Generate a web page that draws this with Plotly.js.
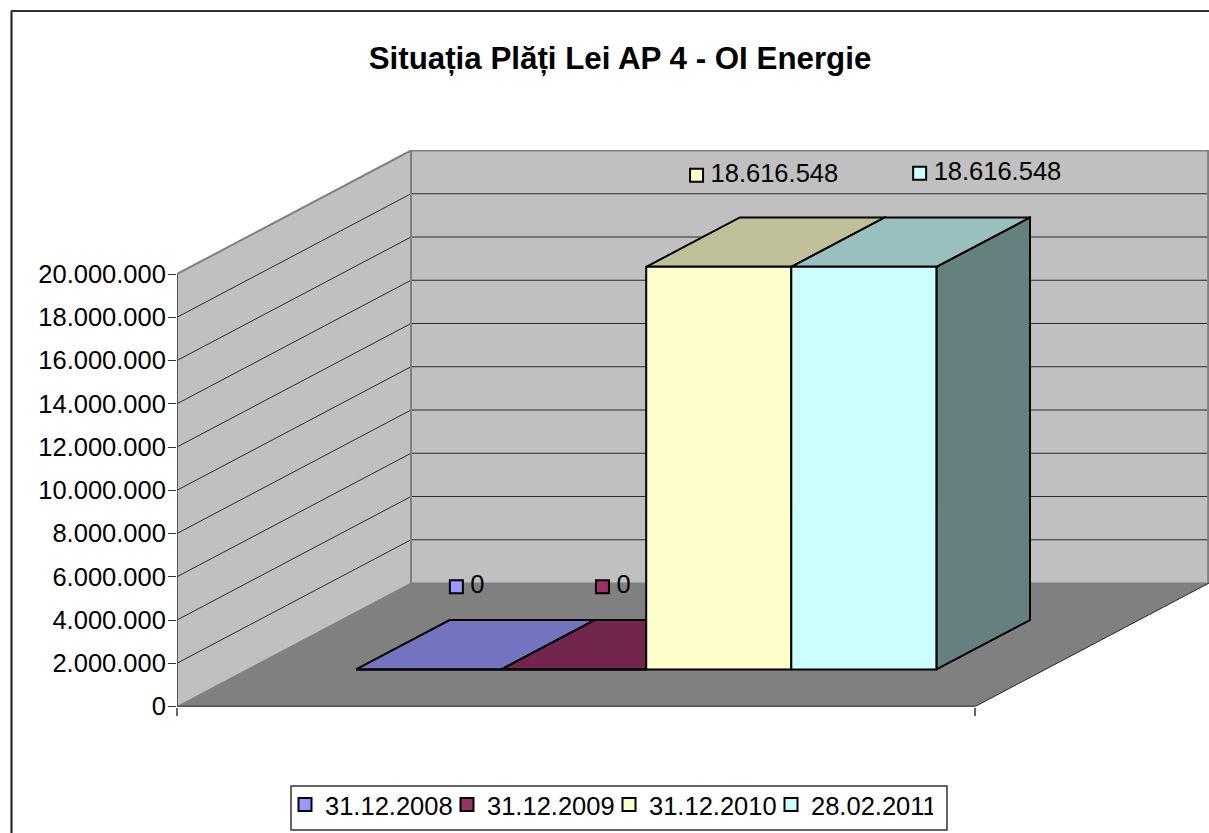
<!DOCTYPE html>
<html>
<head>
<meta charset="utf-8">
<script src="https://cdn.plot.ly/plotly-3.0.1.min.js"></script>
<style>html,body{margin:0;padding:0;background:#fff}#chart{width:1209px;height:833px}</style>
</head>
<body>
<div id="chart"></div>
<script>
// ---- data ----
const seriesNames = ['31.12.2008', '31.12.2009', '31.12.2010', '28.02.2011'];
const seriesValues = [0, 0, 18616548, 18616548];
const axisTicks = [0, 2000000, 4000000, 6000000, 8000000, 10000000, 12000000, 14000000, 16000000, 18000000, 20000000];
const frontColors = ['#9999FF', '#993366', '#FFFFCC', '#CCFFFF'];
const topColors = ['#7373BF', '#73264D', '#BFBF99', '#99BFBF'];
const sideColors = ['#4D4D80', '#4D1A33', '#808066', '#668080'];

// ---- oblique projection of the Excel-like 3D box ----
const W = 1209, H = 833;
const frontLeft = 177, frontRight = 975, baseY = 706.5, topY = 150;
const pxPerValue = 432.5 / 20000000;
const depthPxX = 234, depthPxY = 123.5;
const uPx = frontRight - frontLeft;
const depthU = depthPxX / uPx, depthV = depthPxY / pxPerValue;
const axisMax = (baseY - topY) / pxPerValue;
const P = (u, v, d) => [u + d * depthU, v + d * depthV];
const maxTick = axisTicks[axisTicks.length - 1];
const FONT = 'Liberation Sans, Arial, sans-serif';

const fmt = v => String(Math.round(v)).replace(/\B(?=(\d{3})+(?!\d))/g, '.');

const traces = [];
function poly(pts, fill, lineColor, lineWidth) {
  const closed = pts.concat([pts[0]]);
  traces.push({
    type: 'scatter', mode: 'lines', x: closed.map(p => p[0]), y: closed.map(p => p[1]),
    fill: 'toself', fillcolor: fill, line: {color: lineColor, width: lineWidth},
    showlegend: false, hoverinfo: 'skip', cliponaxis: false
  });
}
function path(pts, color, width) {
  traces.push({
    type: 'scatter', mode: 'lines', x: pts.map(p => p ? p[0] : null), y: pts.map(p => p ? p[1] : null),
    line: {color: color, width: width}, showlegend: false, hoverinfo: 'skip', cliponaxis: false
  });
}

const uMax = (W - frontLeft) / uPx;
const backRightU = uMax - depthU;

// walls
poly([P(0, 0, 0), P(0, maxTick, 0), P(0, maxTick, 1), P(0, 0, 1)], '#C0C0C0', '#C0C0C0', 0);
poly([P(0, 0, 1), P(0, maxTick, 1), P(backRightU, maxTick, 1), P(backRightU, 0, 1)], '#C0C0C0', '#C0C0C0', 0);

// gridlines
const grid = [];
axisTicks.filter(t => t > 0 && t < maxTick).forEach(t => {
  grid.push(P(0, t, 0), P(0, t, 1), P(backRightU, t, 1), null);
});
path(grid, '#2b2b2b', 1);

// wall edges
path([P(0, maxTick, 0), P(0, maxTick, 1), P(backRightU - 0.001, maxTick, 1), P(backRightU - 0.001, 0, 1)], '#808080', 2);
path([P(0, 0, 1), P(0, maxTick, 1)], '#808080', 2);

// floor
poly([P(0, 0, 0), P(1, 0, 0), P(1, 0, 1), P(0, 0, 1)], '#808080', '#808080', 1);
path([P(1, 0, 0), P(1, 0, 1)], '#333333', 1);
path([P(0, 0, 0), P(1, 0, 0)], '#000000', 1.5);
path([P(0, 0, 0), P(0, maxTick, 0)], '#333333', 1.5);

// bars: four series in one category, gap 150%, depth gap 150%
const barW = 1 / (seriesValues.length + 1.5);
const d0 = 0.3, d1 = 0.7;
seriesValues.forEach((v, i) => {
  const a = (0.75 + i) * barW, b = a + barW;
  poly([P(b, 0, d0), P(b, 0, d1), P(b, v, d1), P(b, v, d0)], sideColors[i], '#000', 2);
  poly([P(a, v, d0), P(b, v, d0), P(b, v, d1), P(a, v, d1)], topColors[i], '#000', 2);
  poly([P(a, 0, d0), P(b, 0, d0), P(b, v, d0), P(a, v, d0)], frontColors[i], '#000', 2);
});

// data labels: key square and value, shifted (in px) from the centre of the bar top
const labelShift = [[-19, 58], [-18, 58], [-69, 67], [9, 69]];
const keyGap = 14;
seriesValues.forEach((v, i) => {
  const c = P((0.75 + i + 0.5) * barW, v, 0.5);
  const x = c[0] + labelShift[i][0] / uPx, y = c[1] + labelShift[i][1] / pxPerValue;
  traces.push({
    type: 'scatter', mode: 'markers', x: [x], y: [y], name: seriesNames[i],
    marker: {symbol: 'square', size: 13, color: frontColors[i], line: {color: '#000', width: 2}},
    showlegend: true, hoverinfo: 'skip', cliponaxis: false
  });
  traces.push({
    type: 'scatter', mode: 'text', x: [x + keyGap / uPx], y: [y], text: [fmt(v)],
    textposition: 'middle right', textfont: {family: FONT, size: 25.5, color: '#000'},
    showlegend: false, hoverinfo: 'skip', cliponaxis: false
  });
});

const layout = {
  width: W, height: H,
  margin: {l: 0, r: 0, t: 0, b: 0, autoexpand: false},
  paper_bgcolor: '#fff', plot_bgcolor: 'rgba(0,0,0,0)',
  font: {family: FONT, size: 25.5, color: '#000'},
  title: {
    text: 'Situația Plăți Lei AP 4 - OI Energie',
    font: {family: FONT, size: 31.3, color: '#000', weight: 700},
    x: 620 / W, xanchor: 'center', y: 1 - 58 / H, yanchor: 'middle'
  },
  xaxis: {
    domain: [frontLeft / W, 1], range: [0, uMax], showgrid: false, zeroline: false, showline: false,
    tickmode: 'array', tickvals: [0, 1], ticktext: ['', ''], ticks: 'outside', ticklen: 8, tickwidth: 1.5, tickcolor: '#666'
  },
  yaxis: {
    domain: [(H - baseY) / H, (H - topY) / H], range: [0, axisMax], showgrid: false, zeroline: false, showline: false,
    tickmode: 'array', tickvals: axisTicks, ticktext: axisTicks.map(fmt), ticks: 'outside', ticklen: 8, tickwidth: 1, tickcolor: '#333',
    ticklabelstandoff: -3,
    tickfont: {family: FONT, size: 25.5, color: '#000'}
  },
  showlegend: true,
  legend: {
    orientation: 'h', x: 285 / W, xanchor: 'left', y: 1 - 781.5 / H, yanchor: 'top',
    bgcolor: 'rgba(0,0,0,0)', borderwidth: 0,
    font: {family: FONT, size: 25.5, color: '#000'},
    itemwidth: 30, entrywidth: 117, entrywidthmode: 'pixels', itemclick: false, itemdoubleclick: false
  },
  shapes: [
    {type: 'line', xref: 'paper', yref: 'paper', x0: 11.5 / W, x1: 11.5 / W, y0: 0, y1: 1 - 11 / H, line: {color: '#1a1a1a', width: 2}},
    {type: 'line', xref: 'paper', yref: 'paper', x0: 11 / W, x1: 1, y0: 1 - 11 / H, y1: 1 - 11 / H, line: {color: '#333', width: 2}},
    {type: 'rect', xref: 'paper', yref: 'paper', x0: 291 / W, x1: 947 / W, y0: 1 - 830 / H, y1: 1 - 786 / H, fillcolor: '#fff', line: {color: '#333', width: 1.5}}
  ]
};
Plotly.newPlot('chart', traces, layout, {displayModeBar: false, staticPlot: true});
</script>
</body>
</html>
